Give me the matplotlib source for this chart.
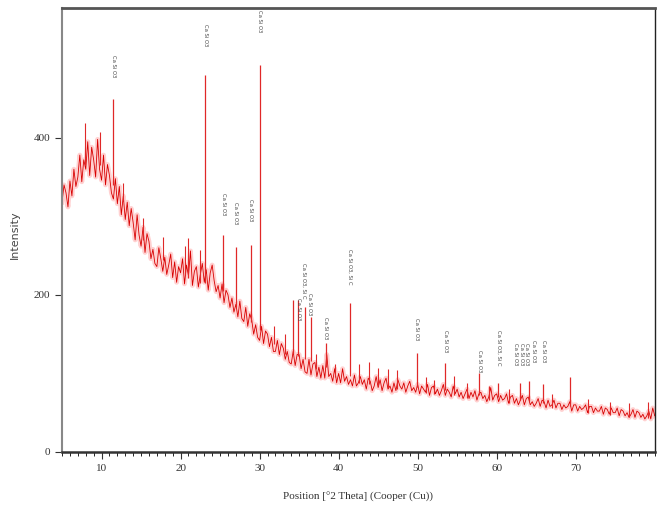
import numpy as np
import matplotlib
matplotlib.use('Agg')
import matplotlib.pyplot as plt

# measured profile, 0.25 deg steps from 5 to 80 deg 2theta
start_angle = 5.0
step = 0.25
counts = [
    318, 340, 330, 312,   # 5
    345, 326, 360, 338,   # 6
    350, 378, 344, 372,   # 7
    360, 395, 352, 388,   # 8
    372, 350, 398, 360,   # 9
    346, 378, 340, 366,   # 10
    352, 330, 322, 348,   # 11
    316, 338, 302, 326,   # 12
    296, 318, 288, 310,   # 13
    292, 270, 302, 276,   # 14
    262, 286, 254, 278,   # 15
    268, 246, 258, 240,   # 16
    236, 260, 246, 230,   # 17
    248, 226, 238, 252,   # 18
    222, 242, 216, 236,   # 19
    228, 246, 214, 238,   # 20
    224, 256, 212, 230,   # 21
    236, 210, 226, 240,   # 22
    216, 232, 206, 228,   # 23
    238, 218, 204, 212,   # 24
    196, 214, 190, 206,   # 25
    200, 184, 196, 178,   # 26
    188, 172, 192, 170,   # 27
    166, 184, 160, 176,   # 28
    168, 150, 162, 146,   # 29
    142, 160, 138, 154,   # 30
    150, 134, 146, 128,   # 31
    128, 142, 124, 138,   # 32
    132, 118, 128, 114,   # 33
    112, 128, 110, 124,   # 34
    124, 106, 118, 102,   # 35
    100, 118, 98, 112,    # 36
    114, 96, 108, 94,     # 37
    110, 94, 124, 96,     # 38
    100, 90, 106, 88,     # 39
    100, 88, 106, 90,     # 40
    96, 86, 92, 84,       # 41
    98, 84, 88, 96,       # 42
    86, 92, 80, 94,       # 43
    90, 78, 84, 96,       # 44
    82, 92, 78, 88,       # 45
    94, 80, 84, 76,       # 46
    88, 78, 92, 84,       # 47
    80, 88, 76, 84,       # 48
    90, 78, 82, 76,       # 49
    86, 74, 84, 80,       # 50
    76, 86, 72, 82,       # 51
    84, 74, 80, 72,       # 52
    78, 86, 72, 80,       # 53
    76, 70, 84, 74,       # 54
    80, 70, 76, 68,       # 55
    74, 80, 68, 76,       # 56
    70, 78, 66, 74,       # 57
    76, 68, 72, 64,       # 58
    70, 82, 66, 72,       # 59
    74, 64, 72, 66,       # 60
    68, 74, 62, 70,       # 61
    72, 62, 68, 60,       # 62
    66, 72, 60, 68,       # 63
    70, 60, 64, 58,       # 64
    62, 68, 58, 66,       # 65
    64, 56, 66, 58,       # 66
    60, 66, 56, 62,       # 67
    62, 54, 60, 56,       # 68
    58, 64, 52, 60,       # 69
    60, 52, 58, 54,       # 70
    56, 60, 50, 58,       # 71
    58, 50, 56, 52,       # 72
    52, 58, 48, 56,       # 73
    54, 48, 56, 50,       # 74
    50, 56, 46, 54,       # 75
    52, 46, 50, 44,       # 76
    48, 54, 44, 52,       # 77
    50, 44, 48, 42,       # 78
    46, 52, 42, 56,       # 79
    46,                   # 80
]

# small unlabelled spikes: position, top, local background
spike_pos = [7.9, 9.8, 12.7, 15.2, 17.8, 20.5, 21.0, 22.5, 31.8, 33.2, 37.2, 39.6,
             42.6, 43.8, 45.0, 46.3, 47.4, 51.0, 52.1, 54.6, 56.3, 59.0, 61.6,
             67.0, 71.5, 74.3, 76.8, 79.2]
spike_top = [419, 408, 343, 298, 274, 262, 272, 257, 160, 150, 125, 112,
             112, 114, 107, 106, 104, 96, 92, 97, 88, 84, 80,
             74, 68, 64, 62, 64]
spike_base = [365, 365, 320, 270, 245, 225, 222, 215, 138, 125, 105, 95,
              88, 86, 84, 82, 80, 75, 74, 72, 69, 66, 62,
              56, 50, 47, 45, 43]

# sharp reflections: position, top, local background
peak_pos = [11.5, 23.1, 25.4, 27.0, 28.9, 30.0, 34.2, 34.9, 35.7, 36.5, 38.4,
            41.4, 49.9, 53.5, 57.8, 60.2, 63.0, 64.1, 65.8, 69.3]
peak_top = [450, 480, 276, 261, 263, 493, 194, 194, 185, 172, 139,
            190, 126, 113, 101, 88, 88, 90, 86, 95]
peak_base = [340, 215, 205, 185, 165, 155, 125, 122, 118, 116, 108,
             97, 83, 79, 73, 70, 66, 65, 62, 58]

# phase labels: position, top of label (intensity units), text
label_pos = [11.5, 23.1, 25.4, 27.0, 28.9, 30.0, 34.9, 35.6, 36.3, 38.4, 41.4,
             49.9, 53.5, 57.8, 60.2, 62.4, 63.1, 63.8, 64.6, 65.9]
label_top = [505, 545, 330, 318, 322, 563, 196, 241, 203, 172, 258,
             171, 155, 130, 155, 139, 139, 139, 143, 143]
label_text = ['Ca Si O3', 'Ca Si O3', 'Ca Si O3', 'Ca Si O3', 'Ca Si O3', 'Ca Si O3',
              'Ca Si O3', 'Ca Si O3, Si C', 'Ca Si O3', 'Ca Si O3', 'Ca Si O3, Si C',
              'Ca Si O3', 'Ca Si O3', 'Ca Si O3', 'Ca Si O3, Si C', 'Ca Si O3',
              'Ca Si O3', 'Ca Si O3', 'Ca Si O3', 'Ca Si O3']

angles = start_angle + step * np.arange(len(counts))

fig = plt.figure(figsize=(6.6, 5.13), dpi=100)
ax = fig.add_axes([0.094, 0.119, 0.898, 0.865])

ax.plot(angles, counts, color='#ff9a9a', lw=3.5, alpha=0.45)
ax.plot(angles, counts, color='#d80000', lw=0.6)
ax.vlines(spike_pos, spike_base, spike_top, color='#e02828', lw=0.8)
ax.vlines(peak_pos, peak_base, peak_top, color='#e02828', lw=0.9)

for x, y, t in zip(label_pos, label_top, label_text):
    ax.text(x, y, t, rotation=270, ha='center', va='top', fontsize=3.8,
            color='#444444', family='DejaVu Sans')

ax.set_xlim(5, 80)
ax.set_ylim(0, 565)
ax.set_xticks([10, 20, 30, 40, 50, 60, 70])
ax.set_xticks(np.arange(5, 81, 1), minor=True)
ax.set_yticks([0, 200, 400])
ax.tick_params(axis='x', direction='out', length=5, width=0.8, labelsize=8, colors='#333333')
ax.tick_params(axis='x', which='minor', direction='out', length=3, width=0.6)
ax.tick_params(axis='y', direction='out', length=5, width=0.8, labelsize=8, colors='#333333')
for lab in ax.get_xticklabels() + ax.get_yticklabels():
    lab.set_family('Liberation Serif')

ax.spines['left'].set_color('#888888')
ax.spines['left'].set_linewidth(1.5)
ax.spines['bottom'].set_color('#333333')
ax.spines['bottom'].set_linewidth(1.8)
ax.spines['top'].set_color('#555555')
ax.spines['top'].set_linewidth(2.0)
ax.spines['right'].set_color('#222222')
ax.spines['right'].set_linewidth(1.0)

ax.set_xlabel('Position [°2 Theta] (Cooper (Cu))', fontsize=8, family='Liberation Serif',
              color='#333333', labelpad=14)
ax.set_ylabel('Intensity', fontsize=8, color='#444444')
ax.yaxis.set_label_coords(-0.071, 0.49)

fig.savefig('out.png', dpi=100)
